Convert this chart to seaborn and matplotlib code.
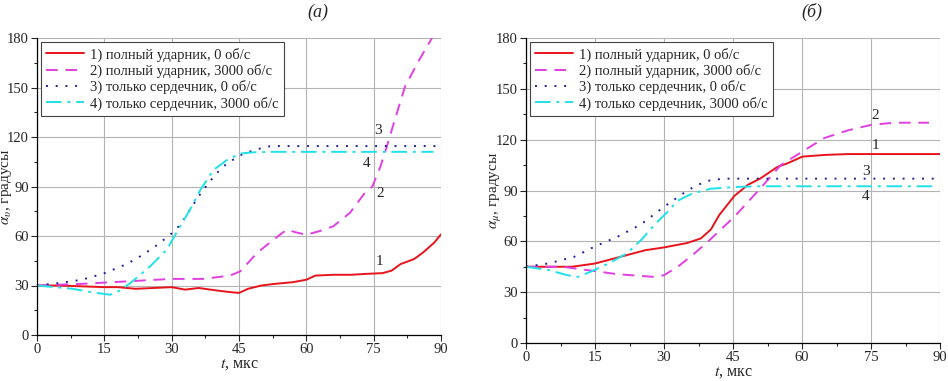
import numpy as np
import pandas as pd
import matplotlib
matplotlib.use("Agg")
import matplotlib.pyplot as plt
import seaborn as sns
from matplotlib.ticker import MultipleLocator

sns.set_style("white")
plt.rcParams['font.family'] = ['Liberation Serif', 'DejaVu Serif']
plt.rcParams['mathtext.fontset'] = 'stix'

# ---------- Panel (а) ----------
a1_t = [0, 5, 10, 15, 18, 22, 26, 30, 33, 36, 40, 43, 45, 47, 50, 53, 57, 60, 62, 66, 70, 73, 77, 79, 81, 84, 86, 88.5, 90]
a1_y = [30, 30, 29.5, 29, 29, 28, 28.5, 29, 27.5, 28.5, 27, 26, 25.5, 28, 30, 31, 32, 33.5, 36, 36.5, 36.5, 37, 37.5, 39, 43, 46, 50, 56, 61]

a2_t = [0, 10, 20, 30, 37, 43, 45.3, 49, 52.7, 55.6, 58, 60, 63, 66, 69.7, 73, 74.7, 76.5, 77.9, 80, 82, 85, 88]
a2_y = [30, 31, 32.5, 34, 34, 36, 38.6, 49.7, 57.8, 63.8, 62, 60.8, 63, 65.9, 74, 86, 90, 102, 114, 133, 150.7, 166, 180]

a3_t = [0, 5, 10, 14.8, 20, 23, 26, 29.7, 32, 34.1, 36, 37.9, 40, 42.3, 46, 49.7, 52, 91]
a3_y = [30, 31.5, 33.5, 37.2, 43, 47.7, 53, 60.8, 67, 76, 84, 91, 98, 104, 110, 113, 114.5, 114.5]

a4_t = [0, 4, 8, 12, 16.3, 18.5, 20.8, 25.2, 28.9, 31.9, 34.1, 36.4, 39.3, 42.3, 45.3, 48.2, 52, 88.3]
a4_y = [30, 29, 28, 26, 24.4, 27, 31.5, 41.6, 51.7, 65.9, 76, 88, 100, 106, 110, 110.7, 111, 111]

a_lab_t = [76.4, 76.4, 76, 73.4]
a_lab_y = [44.6, 86, 124, 104]

# ---------- Panel (б) ----------
b1_t = [0, 10, 15, 20, 26, 30, 35, 38, 40.2, 42, 45.3, 48.2, 51, 54.7, 56.8, 60.1, 65, 70, 90]
b1_y = [45, 45, 46.9, 50.5, 54.8, 56.4, 59, 61.7, 67, 75.5, 86.8, 93.3, 97.2, 104, 106, 110, 111, 111.5, 111.5]

b2_t = [0, 8, 13.4, 19.9, 27.9, 30, 33, 36.2, 39.5, 45.3, 50.3, 55.4, 60.1, 64.8, 70, 75, 80, 87.6]
b2_y = [45, 45, 43, 40.6, 39, 40, 45, 51.9, 59.7, 74.5, 89.3, 105, 113, 120.9, 125.5, 128.7, 130, 130]

b3_t = [0, 5, 10.5, 15, 19.9, 25, 30, 34, 37, 40, 43, 90]
b3_y = [45, 47, 50.9, 57, 62.7, 70, 80.4, 88, 93, 96, 97, 97]

b4_t = [0, 5, 9, 11.2, 14, 18, 22, 25, 28, 31, 33, 36, 40, 45, 50, 88.3]
b4_y = [45, 43, 40, 39, 42, 47, 53, 60.7, 70, 78, 84, 88, 91, 92, 92.5, 92.5]

b_lab_t = [76, 76, 73.9, 73.9]
b_lab_y = [116.5, 134, 101, 86.4]

labels = ["1) полный ударник, 0 об/с", "2) полный ударник, 3000 об/с",
          "3) только сердечник, 0 об/с", "4) только сердечник, 3000 об/с"]
colors = ["#e8141c", "#e040e0", "#20209a", "#20e0e8"]
styles = ["-", (0, (6, 4)), (0, (1, 4)), (0, (8, 3, 1.5, 3))]

fig = plt.figure(figsize=(9.48, 3.81), dpi=100)
axA = fig.add_axes([37/948, 1-335/381, (441-37)/948, (335-38)/381])
axB = fig.add_axes([526/948, 1-343/381, (940-526)/948, (343-38)/381])

def draw(ax, series, lab_t, lab_y, ylabel, title, tx, ylx):
    for (t, y), lab, c, ls in zip(series, labels, colors, styles):
        df = pd.DataFrame({"t": t, "y": y})
        sns.lineplot(data=df, x="t", y="y", ax=ax, color=c, linestyle=ls,
                     linewidth=1.4, label=lab, sort=False)
    for i, (x, y) in enumerate(zip(lab_t, lab_y)):
        ax.text(x, y, str(i + 1), fontsize=11, ha='center', va='center')
    ax.set_xlim(0, 90)
    ax.set_ylim(0, 180)
    ax.xaxis.set_major_locator(MultipleLocator(15))
    ax.xaxis.set_minor_locator(MultipleLocator(7.5))
    ax.yaxis.set_major_locator(MultipleLocator(30))
    ax.yaxis.set_minor_locator(MultipleLocator(15))
    ax.grid(True, which='major', color='#b4b4b4', linewidth=0.8)
    ax.tick_params(which='major', direction='out', length=4, width=0.8,
                   labelsize=10.5, bottom=True, left=True, pad=2)
    ax.tick_params(which='minor', direction='out', length=2.5, width=0.8,
                   bottom=True, left=True)
    for s in ['top', 'right']:
        ax.spines[s].set_visible(False)
    for s in ['left', 'bottom']:
        ax.spines[s].set_color('black')
        ax.spines[s].set_linewidth(0.9)
    ax.set_xlabel("$t$, мкс", fontsize=11.5, labelpad=0)
    ax.set_ylabel(ylabel, fontsize=11)
    ax.yaxis.set_label_coords(ylx, 0.5)
    leg = ax.legend(loc='upper left', fontsize=10.5, frameon=True, fancybox=False,
                    edgecolor='#444444', framealpha=1, borderaxespad=0.3,
                    handlelength=2.6, labelspacing=0.15, borderpad=0.35,
                    handletextpad=0.4)
    leg.get_frame().set_linewidth(0.8)
    fig.text(tx, 1 - 12/381, title, fontsize=13, style='italic', ha='center', va='center')

draw(axA, [(a1_t, a1_y), (a2_t, a2_y), (a3_t, a3_y), (a4_t, a4_y)],
     a_lab_t, a_lab_y, r"$\alpha_{\upsilon}$, градусы", "(а)", 318/948, -0.056)
draw(axB, [(b1_t, b1_y), (b2_t, b2_y), (b3_t, b3_y), (b4_t, b4_y)],
     b_lab_t, b_lab_y, r"$\alpha_{\mu}$, градусы", "(б)", 812/948, -0.056)

fig.savefig("out.png", dpi=100)
